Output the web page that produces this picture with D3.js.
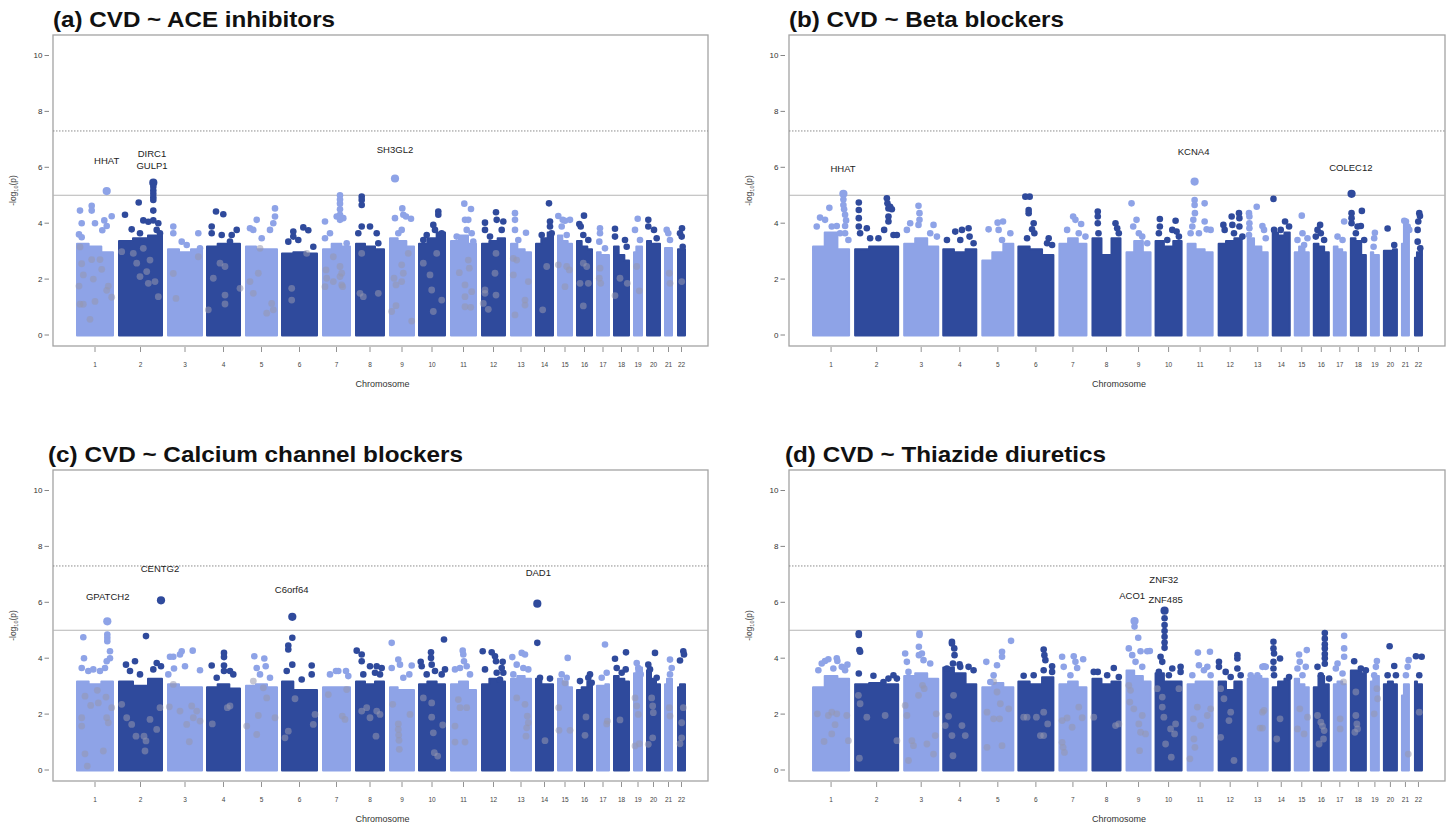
<!DOCTYPE html>
<html><head><meta charset="utf-8">
<script src="https://cdn.jsdelivr.net/npm/d3@7"></script>
<style>body{margin:0;background:#fff;} svg{display:block;font-family:"Liberation Sans", Arial, Helvetica, sans-serif;}</style>
</head><body><svg id="chart" width="1448" height="824"></svg>
<script>
// ---------------- DATA ----------------
const chromosomes = ["1","2","3","4","5","6","7","8","9","10","11","12","13","14","15","16","17","18","19","20","21","22"];
// cumulative genomic index (arbitrary units) where each chromosome's SNPs start / end
const chrStart = [23,65,114,153,192,228,269,302,336,365,397,428,457,482,504,523,543,560,580,593,611,624];
const chrEnd   = [61,110,150,188,225,265,298,332,362,393,424,453,479,501,520,540,557,577,590,608,620,633];
const yTicks = [0,2,4,6,8,10];
const suggestiveLine = 5;
const genomeWideLine = 7.3;
const titles = ["(a) CVD ~ ACE inhibitors","(b) CVD ~ Beta blockers","(c) CVD ~ Calcium channel blockers","(d) CVD ~ Thiazide diuretics"];

// upper edge of the dense SNP cloud, per chromosome (left / middle / right thirds), -log10(p)
const bulkA = [[3.3,3.2,3.0],[3.4,3.5,3.6],[3.1,3.0,3.1],[3.2,3.3,3.3],[3.2,3.1,3.1],[2.95,3.0,2.95],[3.1,3.3,3.2],[3.3,3.2,3.1],[3.5,3.4,3.2],[3.3,3.5,3.7],[3.4,3.6,3.3],[3.3,3.4,3.5],[3.3,3.1,3.0],[3.3,3.5,3.7],[3.6,3.4,3.3],[3.4,3.2,3.1],[3.0,2.9,2.9],[3.2,2.9,2.7],[3.0,3.2,3.2],[3.4,3.3,3.3],[3.15,3.15,3.15],[3.1,3.1,3.1]];
const bulkB = [[3.2,3.7,3.1],[3.1,3.2,3.2],[3.3,3.5,3.2],[3.1,3.0,3.1],[2.7,3.0,3.3],[3.2,3.1,2.9],[3.3,3.5,3.3],[3.5,2.9,3.5],[3.0,3.4,3.0],[3.4,3.2,3.4],[3.3,3.1,3.0],[3.3,3.4,3.5],[3.5,3.2,3.0],[3.7,3.6,3.7],[3.0,3.2,3.0],[3.3,3.2,3.0],[3.2,3.1,3.0],[3.5,3.4,2.9],[3.0,2.9,2.9],[3.05,3.05,3.1],[3.3,4.0,3.8],[2.8,3.0,3.2]];
const bulkC = [[3.2,3.1,3.2],[3.2,3.05,3.3],[3.1,3.0,3.0],[3.0,3.1,2.95],[3.05,3.1,3.0],[3.2,2.9,2.9],[3.0,3.0,3.0],[3.2,3.1,3.2],[3.0,2.9,2.9],[3.1,3.2,3.1],[3.1,3.2,2.9],[3.1,3.3,3.2],[3.3,3.4,3.3],[3.3,3.1,3.1],[3.3,3.2,3.0],[2.9,3.0,3.2],[3.05,3.05,3.1],[3.4,3.3,3.2],[3.5,3.7,3.7],[3.6,3.3,3.1],[3.1,3.3,3.3],[3.0,3.1,3.1]];
const bulkD = [[3.0,3.4,3.3],[3.1,3.15,3.1],[3.4,3.5,3.3],[3.7,3.5,3.1],[3.0,3.15,3.0],[3.2,3.1,3.35],[3.1,3.2,3.0],[3.3,3.1,3.2],[3.6,3.4,3.2],[3.5,3.2,3.2],[3.1,3.2,3.2],[3.2,2.9,3.2],[3.3,3.4,3.3],[3.0,3.2,3.3],[3.3,3.1,3.0],[3.0,3.4,3.1],[3.1,3.2,3.1],[3.6,3.6,3.5],[3.2,3.4,3.4],[3.1,3.2,3.1],[2.7,3.1,3.1],[3.2,3.1,3.1]];

// individual SNPs standing out above the cloud: [cumulative position, -log10(p)]
const peaksA = [[27,4.45],[28.7,4.0],[38.7,4.62],[38.7,4.45],[42,4.0],[49.3,3.75],[51.3,4.1],[53.7,5.15],[58.7,4.25],[53.7,3.9],[26,3.6],[28.7,3.5],
[72,4.3],[78.7,3.78],[85.7,4.74],[90.3,4.1],[100.3,5.45],[100.3,5.3],[100.3,5.17],[100.3,5.05],[100.3,4.93],[100.3,4.83],[100.3,4.45],[100.3,4.1],[95.3,4.05],[105.3,4.0],[103.7,3.76],[87,3.64],[107,3.64],
[120.3,3.88],[120.3,3.64],[128.7,3.34],[133.7,3.22],[145.3,3.64],[147,3.1],
[163,4.42],[170.3,4.32],[158.7,3.88],[158.7,3.64],[168.7,3.58],[178.7,3.58],[183.7,3.76],[177,3.34],
[197,3.82],[200.3,3.76],[203.7,4.12],[222,4.53],[222,4.24],[220.3,4.0],[217,3.76],[208.7,3.46],
[240.3,3.7],[240.3,3.52],[250.3,3.85],[255.3,3.75],[235.3,3.34],[245.3,3.4],[260.3,3.16],
[287,5.0],[287,4.85],[287,4.7],[287,4.5],[287,4.3],[287,4.12],[283.7,4.24],[290.3,4.18],[272,4.06],[272,3.46],[277,3.64],[293.7,3.28],
[308.7,4.95],[308.7,4.83],[308.7,4.65],[308.7,3.88],[317,3.88],[305.3,3.64],[323.7,3.64],[325.3,3.28],
[342,5.6],[342,4.18],[349.3,4.53],[350.3,4.3],[348.7,3.76],[358,4.16],[353,4.24],[345.3,3.64],
[385.3,4.42],[385.3,4.3],[380.3,3.94],[382,3.76],[388.7,3.64],[373.7,3.58],[370.3,3.4],
[411.3,4.7],[418,4.51],[412,4.12],[415.3,4.12],[413.7,3.76],[403.7,3.52],[418.7,3.64],[420.3,3.34],
[432,4.02],[432,3.76],[443,4.39],[443.7,4.12],[450.3,4.06],[448.7,3.76],[437,3.52],
[462,4.36],[462,4.12],[462,3.76],[473,3.66],[465.3,3.4],
[496,4.71],[497,4.06],[497,3.88],[488.7,3.58],[498.7,3.64],
[505.3,4.26],[509.7,4.12],[512,4.09],[517,4.12],[508.7,3.88],[513.7,3.58],
[531,4.27],[526.3,3.97],[527.7,3.88],[530.3,3.58],[535.3,3.4],
[547,3.82],[547,3.64],[546.3,3.34],[552,3.1],
[562,3.8],[562,3.52],[572,3.4],[573.7,3.16],
[584.7,4.16],[582,3.76],[587,3.4],
[595.3,4.12],[595.3,3.88],[601,3.76],[603.7,3.46],
[613.7,3.76],[615.3,3.64],[617,3.4],
[629,3.82],[627,3.64],[628.7,3.52],[629.7,3.16]];
const peaksB = [[40.3,4.55],[54.3,5.05],[54.3,4.85],[54.3,4.65],[55,4.5],[56,4.3],[57,4.1],[56,3.9],[47.7,3.9],[31,4.2],[36,4.12],[27.7,3.88],[42.7,3.88],[51,3.64],[56,3.64],[59.3,3.4],
[69.7,4.74],[69.7,4.47],[69.7,4.18],[69.7,3.88],[71,3.64],[77.7,3.82],[81,3.46],[97.7,4.89],[98.3,4.71],[99.3,4.53],[101,4.59],[102.7,4.5],[99.3,4.24],[99.3,4.06],[95,3.76],[104.3,3.58],[107.7,3.58],[89.3,3.46],
[129.3,4.62],[130.3,4.36],[130.3,4.12],[129.3,3.94],[121,4.0],[117.7,3.76],[144.3,3.94],[141,3.64],[147.7,3.52],
[166,3.7],[172.7,3.76],[179.3,3.82],[180.3,3.52],[157.7,3.4],[171,3.4],[184.3,3.28],
[199.3,3.78],[208.3,4.02],[213.7,4.06],[209.3,3.76],[212.7,3.4],[221,3.64],[217.7,3.16],
[236,4.95],[240.3,4.95],[239.3,4.47],[239.3,4.36],[244.3,4.0],[242.7,3.78],[237.7,3.46],[245,3.64],[259.3,3.46],[257.7,3.28],[262.7,3.22],
[283.7,4.24],[286,4.12],[277.7,3.76],[291.7,3.97],[289.3,3.64],[296,3.52],
[308.3,4.42],[308.3,4.24],[308.3,4.0],[309,3.64],[326,4.0],[327.7,3.82],[329.3,3.64],
[342,4.71],[347,4.12],[343.7,3.88],[349.3,3.64],[357.7,3.28],[352.7,3.52],
[370.3,4.15],[370.3,3.88],[369.3,3.64],[386,4.09],[387,3.7],[382.7,3.76],[389.3,3.52],[377.7,3.4],
[405,5.49],[405,4.83],[405,4.65],[405.3,4.36],[403.7,4.12],[402.7,3.88],[415,4.71],[415,4.06],[417,3.78],[421,3.76],[409.3,3.64],[401,3.64],
[433.7,3.94],[435,3.76],[442,4.24],[442.7,3.94],[449.3,4.36],[449.7,4.18],[449.7,3.88],[444.3,3.64],[452.7,3.52],
[459.3,4.36],[459.7,4.24],[459.7,4.0],[459.7,3.82],[459.3,3.58],[467,4.59],[472.7,3.9],[474.3,3.76],[476,3.46],
[483.7,4.87],[484.3,3.76],[495.3,4.06],[499.3,3.88],[491,3.76],
[512,4.27],[512.7,3.64],[507.7,3.4],[514.3,3.22],[517.7,3.46],
[530.3,3.94],[527.7,3.76],[531,3.64],[526,3.52],[534.3,3.4],
[554.3,4.06],[547.7,3.52],[552.7,3.4],
[561.7,5.05],[561.7,4.36],[561.7,4.18],[561.7,4.0],[572,4.44],[567.7,3.88],[571,3.9],[566,3.64],[574.3,3.4],
[585,3.66],[584.3,3.46],[583.7,3.16],
[597.7,3.81],[604.3,3.22],
[614.3,4.09],[616,4.06],[617.7,3.88],[619.3,3.76],
[629.3,4.36],[630,4.26],[628.3,4.06],[627.7,3.76],[627.7,3.34],[630.3,3.1]];
const peaksC = [[30.3,4.75],[31,4.0],[28.7,3.65],[35.3,3.54],[54.3,5.32],[54.3,4.85],[54.3,4.73],[54.3,4.61],[57,4.25],[57,4.0],[53.7,3.89],[52,3.65],[47,3.54],[40.3,3.6],
[73,3.77],[82,3.89],[93,4.79],[103.7,3.83],[108,6.07],[108,3.71],[100.3,3.6],[77,3.54],[87,3.42],
[117,4.05],[120.3,4.05],[127,4.13],[128.7,4.25],[139.7,4.27],[121,3.63],[132,3.71],[147,3.57],[115.3,3.42],
[171,4.19],[171,4.04],[171,3.74],[171,3.54],[158.7,3.74],[177,3.54],[180.3,3.42],[163.7,3.3],
[201.3,4.07],[211.3,3.99],[212.7,3.71],[203.7,3.65],[207,3.42],[217,3.3],
[239.3,5.48],[239.3,4.73],[235.3,4.45],[235.3,4.31],[239.3,3.77],[258.7,3.74],[258.7,3.42],[248.7,3.24],[233.7,3.54],
[283,3.54],[285.3,3.54],[293,3.54],[277,3.42],[295.3,3.36],
[303.7,4.27],[308.7,4.13],[308.7,3.89],[317,3.71],[322,3.48],[310.3,3.42],[323.7,3.71],[328.7,3.65],[327,3.42],
[338.7,4.55],[345.3,3.95],[347,3.77],[338.7,3.65],[358.7,3.74],[356.3,3.42],[350.3,3.3],
[367.7,3.87],[368.7,3.71],[378,4.21],[378,4.01],[378.7,3.77],[391,4.67],[392,3.6],[382,3.54],[373.7,3.42],[388.7,3.42],
[409.7,4.27],[410.3,4.13],[411,3.89],[402,3.6],[407,3.65],[417,3.42],[413.7,3.71],
[429.7,4.25],[438.7,4.21],[442,4.07],[443,3.89],[449.7,3.87],[448.7,3.65],[443.7,3.48],[450.3,3.48],[432,3.6],[447,3.24],
[468.7,4.19],[472,4.13],[459.3,4.04],[470.3,3.65],[463.7,3.77],[460.3,3.42],[475.3,3.6],
[484.3,5.95],[484.3,4.55],[487,3.3],[497,3.27],
[514.7,4.01],[508.7,3.42],[513.7,3.3],
[537,3.42],[535.3,3.3],[538.7,3.12],[527,3.18],
[552,4.49],[548.7,3.3],[553.7,3.48],
[562,3.98],[573,4.21],[572.7,3.6],[563.7,3.65],[568.7,3.48],
[583.7,3.83],[585.3,3.65],[587.7,3.42],
[602,4.19],[595.3,3.77],[597,3.6],[603.7,3.3],
[617,3.95],[618.7,3.65],[617,3.42],
[630.3,4.25],[631,4.13],[627,3.92]];
const peaksD = [[36,3.9],[39.3,3.96],[47.7,4.0],[48.3,3.9],[56,3.57],[58.3,3.77],[29.3,3.57],[32.7,3.81],[44.3,3.63],[52.7,3.69],
[69.7,4.89],[69.7,4.83],[70.3,4.29],[71,4.23],[69.7,3.45],[84.3,3.37],[94.3,3.15],[99.3,3.27],[107.7,3.27],[104.3,3.39],
[130.3,4.89],[130.3,4.83],[129.7,4.41],[129.7,4.11],[132.7,4.17],[134.3,3.93],[116,4.17],[117.7,3.87],[119.3,3.51],[141,3.81],
[162.7,4.59],[162.7,4.53],[165,4.35],[165.3,4.11],[163.7,3.81],[170.3,3.78],[171,3.69],[179.3,3.69],[184.3,3.57],[157.7,3.63],
[221.7,4.62],[212.7,4.23],[212.7,4.05],[207.7,3.75],[197,3.87],[204.3,3.39],[201,3.15],
[254.3,4.31],[255,4.11],[256,3.93],[254.3,3.57],[262.7,3.71],[262.7,3.51],[234.3,3.37],[244.3,3.39],
[272.7,4.05],[274.3,3.69],[284.3,4.07],[286,3.87],[287.7,3.65],[293.7,3.96],[281,3.39],
[304.3,3.51],[308.3,3.51],[324.3,3.65],[317.7,3.39],[329.3,3.33],
[345,5.33],[345,5.13],[348.7,4.73],[351,4.25],[360.3,4.26],[357.7,4.25],[339.3,4.35],[342.7,4.11],[346,3.87],[352.7,3.69],
[375,5.7],[375,5.43],[375,5.19],[375,4.97],[375,4.77],[375,4.56],[375,4.37],[371,4.05],[372.7,3.87],[382.7,3.63],[391,3.69],[391,3.51],[369.3,3.51],[379.3,3.39],
[408.3,4.2],[420.3,4.23],[409.3,3.75],[417.7,3.69],[414.3,3.57],[402.7,3.39],[421,3.39],
[429.3,3.87],[429.3,3.69],[447.7,4.11],[447.7,3.99],[447.7,3.63],[436,3.51],[441,3.33],[451,3.39],
[474.3,3.71],[472.7,3.69],[476,3.69],[461,3.39],[467.7,3.39],
[483.7,4.59],[483.7,4.35],[484.3,4.17],[490.3,3.99],[483.7,3.87],[483.7,3.63],[484.3,3.39],[499.3,3.33],
[509.3,4.13],[517,4.29],[510,3.87],[507.7,3.63],[516,3.69],[512.7,3.39],
[535,4.9],[535,4.7],[535,4.5],[535,4.35],[535,4.15],[535,4.0],[535,3.8],[527.7,3.69],[531,3.39],[539.3,3.27],
[554.3,4.8],[554.3,4.35],[554.3,4.05],[546,3.63],[547.7,3.81],[552.7,3.45],
[564.3,3.89],[571,3.63],[576,3.57],
[587,3.9],[586,3.69],[584.3,3.39],
[599.7,4.43],[604.3,3.72],[597.7,3.39],[606,3.39],
[618.7,3.93],[617.7,3.69],[616,3.39],
[626,4.07],[631.7,4.05],[629.3,3.39]];

// highlighted (semi-transparent) SNPs drawn over the cloud: [cumulative position, -log10(p)]
const innerA = [[27,3.15],[28.7,2.55],[26,1.75],[30.3,2.15],[27,1.1],[30.3,1.1],[37,0.56],[42,1.2],[40.3,2.0],[47,2.7],[48.7,2.35],[53.7,1.6],[58.7,1.35],[55.3,1.75],[38.7,2.7],
[68.7,2.98],[83.7,2.57],[87,2.09],[93.7,2.27],[95.3,1.85],[102,1.91],[105.3,1.37],[97,2.68],[80.3,2.92],[90.3,3.1],
[120.3,2.2],[123,1.31],[145.3,2.8],
[167,2.57],[172,2.45],[172,1.43],[172,1.11],[155.3,0.9],[187,1.67],[160.3,2.03],
[207,3.1],[197,1.91],[205.3,2.21],[200.3,1.49],[220.3,0.9],[213.7,0.78],[218.7,1.13],
[238.7,1.67],[238.7,1.25],[253.7,2.92],
[273,2.33],[273.7,2.03],[280.3,2.8],[287,2.45],[287,2.09],[288.7,1.79],[289.7,1.73],[288.7,2.21],[280.3,1.91],[272,1.73],
[308.7,2.92],[307,1.49],[310.3,1.37],[325.3,1.49],
[341,2.03],[343,1.79],[348.7,2.51],[350.3,2.21],[348.7,1.91],[355.3,2.92],[343,1.05],[338.7,0.84],[358.7,0.5],
[377,2.15],[378.7,1.61],[380.3,0.84],[388.7,1.25],[370.3,2.57],[383.7,2.92],
[406.3,2.23],[412,1.79],[415.3,2.68],[416.3,2.39],[412,1.37],[418.7,1.55],[412,1.01],[417.7,0.99],
[443,2.92],[442,2.21],[432,1.61],[443,1.43],[432,1.49],[430.3,1.13],[435.3,0.92],
[460.3,2.74],[463.7,2.68],[460.3,2.15],[475.3,1.91],[472,1.25],[472,1.07],[462,0.72],
[493.7,2.45],[489.7,0.9],
[505.3,2.51],[513.7,2.45],[516.3,2.33],[512,1.73],
[530.3,2.57],[533.7,2.45],[527,1.85],[535.3,1.85],[530.3,1.04],
[547,2.39],[546.3,2.03],[547.7,1.85],
[567,2.03],[562,1.41],[574.3,1.85],
[583.7,2.45],[586.3,1.58],
[616.3,2.21],[617,1.85],
[628.7,1.91]];
const innerB = [];
const innerC = [[32,2.64],[37.7,2.31],[45.3,2.4],[28.7,1.87],[28.7,1.57],[32,0.58],[34.3,0.14],[50.3,0.68],[53.7,1.87],[55.3,1.69],[58.7,2.23],[44.3,2.85],[53,2.61],
[68.7,2.35],[73.7,1.87],[83,1.21],[91,1.21],[92,0.68],[93,1.04],[97,1.81],[103.7,1.45],[107,2.23],[78.7,1.63],
[116.3,2.26],[120.3,3.06],[127,2.11],[133.7,1.63],[136.3,1.01],[138.7,2.29],[140.3,1.87],[143.7,2.11],[147,1.75],
[159.3,1.65],[177,2.29],[174.3,2.23],
[200.3,3.18],[205.3,1.95],[203.7,1.27],[213.7,2.58],[222,1.87],[193.7,1.57],[210.3,2.94],
[232,1.15],[235.3,1.39],[242,2.55],[260.3,1.63],[262,1.99],
[275.3,2.7],[289.3,1.93],[292,1.81],[293.7,2.88],
[308.7,2.11],[313.7,2.23],[317,1.87],[323,1.21],[323.7,2.11],[327,1.99],
[339.7,2.35],[345.3,1.65],[345.3,1.45],[345.7,1.25],[346,1.06],[346.3,0.74],[357,1.99],
[378.7,2.4],[378.7,1.89],[380.3,1.33],[389.7,1.61],[381.3,0.62],[384.7,0.5],[370.3,2.58],
[405.3,2.52],[407,2.23],[413.7,2.23],[402,1.57],[402,1.0],[412,1.0],
[472,2.35],[474.3,1.93],[475.3,1.69],[473.7,1.51],[463.7,2.58],[473,1.21],
[492,1.05],
[505.7,2.23],[506,1.42],[517,1.42],[512,3.12],
[533,1.9],[532,1.24],
[554.3,1.75],[553.7,1.65],
[567,1.79],
[582,2.58],[583.7,2.29],[585.3,1.99],[582,0.86],[586.3,0.94],
[598.7,2.58],[599.7,2.29],[600.3,2.05],[599.7,1.15],[595.3,0.92],
[616.3,2.23],[617,1.93],
[630.3,2.23],[628.7,1.69],[628.7,1.15],[627,0.94]];
const innerD = [[28.3,2.01],[39.3,1.95],[42.7,2.07],[47.7,2.01],[46,1.62],[42.7,1.29],[35,1.02],[57.7,1.95],[59.3,1.05],
[69.3,2.67],[71,2.37],[70.3,0.42],[77.7,1.89],[96,1.95],[107.7,1.05],
[116,2.31],[117.7,1.95],[129.3,2.67],[133.3,3.03],[135,2.91],[124.3,0.87],[119.3,0.34],[137.7,0.93],[144.3,0.57],[146,1.23],[122.7,1.05],[147,2.01],
[156,1.59],[159.3,1.92],[162.7,1.23],[163.7,0.51],[172.7,1.59],[176,1.23],[164.3,2.67],
[204.3,3.17],[207.7,2.79],[211,2.37],[197.7,2.07],[204.3,1.83],[210.3,1.83],[212.7,0.87],[197.7,0.81],[219.3,2.19],
[234.3,1.89],[237.7,1.89],[247,1.89],[251,1.23],[254.3,1.23],[258.3,1.65],[254.3,2.07],
[272.7,1.77],[277.7,1.86],[282.7,1.53],[289.3,2.25],[292.7,1.87],[272.7,0.99],[273.7,0.81],[275,0.63],
[326,1.59],[329.3,1.65],[304.3,1.89],
[341,2.85],[340.3,2.43],[344.3,2.19],[349.3,1.65],[351,1.35],[356,1.29],[350,0.69],[339.3,3.03],[352.7,1.95],
[372.7,2.61],[372.7,2.25],[374.3,1.89],[381,1.47],[386,1.65],[385,1.29],[376,0.93],[381.7,0.46],[367.7,2.91],[389.3,2.91],
[407.7,2.25],[403.7,1.83],[411,1.59],[404.3,1.11],[405.3,0.81],[400.3,0.4],[421,2.19],[417.7,1.95],
[431,2.91],[434.3,2.55],[439.3,1.77],[441,2.07],[444.3,0.34],[431,1.17],
[472.7,2.07],[474.3,2.13],[470.3,1.5],[472.7,1.5],
[490.3,1.83],[487,1.11],
[510,2.19],[507.7,1.47],[514.3,1.29],[517.7,1.89],
[531,1.71],[532.7,1.57],[534.3,1.41],[533.7,1.11],[527.7,1.95],[529.3,0.93],
[550.3,1.83],[550.3,1.47],[553.7,3.15],
[566,2.79],[566,1.95],[567,1.65],[567.7,1.47],[565,1.35],
[587,2.91],[587.7,2.55],[584.3,2.01],
[618.3,0.57],
[629.3,2.07]];

// gene annotations: [gene, cumulative position, label height in -log10(p)]
const labelsA = [["HHAT",53.7,6.24],["DIRC1",99,6.48],["GULP1",99,6.06],["SH3GL2",342,6.63]];
const labelsB = [["HHAT",54,5.94],["KCNA4",404,6.56],["COLEC12",561,6.0]];
const labelsC = [["GPATCH2",54.7,6.19],["CENTG2",107,7.2],["C6orf64",238.7,6.45],["DAD1",485.3,7.07]];
const labelsD = [["ZNF32",374.3,6.8],["ACO1",342.7,6.24],["ZNF485",376,6.08]];

// ---------------- DRAWING ----------------
const panels = [
  {title: titles[0], bulk: bulkA, peaks: peaksA, inner: innerA, labels: labelsA},
  {title: titles[1], bulk: bulkB, peaks: peaksB, inner: innerB, labels: labelsB},
  {title: titles[2], bulk: bulkC, peaks: peaksC, inner: innerC, labels: labelsC},
  {title: titles[3], bulk: bulkD, peaks: peaksD, inner: innerD, labels: labelsD}
];
const frames = [
  {left:53,  top:35,  width:655, titleX:53,  titleY:27,  titleW:282},
  {left:789, top:35,  width:656, titleX:789, titleY:27,  titleW:275},
  {left:53,  top:470, width:655, titleX:48,  titleY:462, titleW:415},
  {left:789, top:470, width:656, titleX:785, titleY:462, titleW:321}
];
const boxH = 311;
const lightCol = "#8ea3e7", darkCol = "#2f4a9c";
const colOf = ci => (ci % 2 === 0 ? lightCol : darkCol);
const chrIndexOf = pos => Math.max(0, Math.min(21, d3.bisectRight(chrStart, pos) - 1));

const svg = d3.select("#chart");

panels.forEach((p, i) => {
  const f = frames[i];
  const g = svg.append("g");
  const x = d3.scaleLinear().domain([0, 655]).range([f.left, f.left + f.width]);
  const y = d3.scaleLinear().domain([0, 10]).range([f.top + 300, f.top + 20.5]);

  // lead SNP of each annotated locus (highest peak close to the label) is drawn a bit larger
  const leads = new Set();
  p.labels.forEach(l => {
    const near = p.peaks.filter(d => Math.abs(d[0] - l[1]) < 4);
    if (near.length) leads.add(d3.greatest(near, d => d[1]));
  });

  // title
  g.append("text").attr("x", f.titleX).attr("y", f.titleY)
    .attr("font-size", 22).attr("font-weight", "bold").attr("fill", "#111")
    .attr("textLength", f.titleW).attr("lengthAdjust", "spacingAndGlyphs")
    .text(p.title);

  // frame
  g.append("rect").attr("x", f.left).attr("y", f.top).attr("width", f.width).attr("height", boxH)
    .attr("fill", "none").attr("stroke", "#a3a3a3").attr("stroke-width", 1.3);

  // threshold lines
  g.append("line").attr("x1", f.left).attr("x2", f.left + f.width)
    .attr("y1", y(genomeWideLine)).attr("y2", y(genomeWideLine))
    .attr("stroke", "#8c8c8c").attr("stroke-width", 1).attr("stroke-dasharray", "1.5,1.5");
  g.append("line").attr("x1", f.left).attr("x2", f.left + f.width)
    .attr("y1", y(suggestiveLine)).attr("y2", y(suggestiveLine))
    .attr("stroke", "#b5b5b5").attr("stroke-width", 1);

  // dense SNP cloud per chromosome: one stepped area per chromosome, rounded like the dot edges
  const area = d3.area()
    .x(d => d[0]).y0(y(0) + 0.5).y1(d => d[1])
    .curve(d3.curveStepAfter);
  chromosomes.forEach((c, ci) => {
    const s = chrStart[ci], e = chrEnd[ci], w = (e - s) / 3;
    const prof = p.bulk[ci];
    const pts = [
      [x(s) + 1, y(prof[0]) + 1],
      [x(s + w), y(prof[1]) + 1],
      [x(s + 2 * w), y(prof[2]) + 1],
      [x(e) - 1, y(prof[2]) + 1]
    ];
    g.append("path").attr("d", area(pts))
      .attr("fill", colOf(ci)).attr("stroke", colOf(ci))
      .attr("stroke-width", 2).attr("stroke-linejoin", "round");
  });

  // highlighted semi-transparent SNPs
  g.selectAll("circle.inner").data(p.inner).join("circle").attr("class", "inner")
    .attr("cx", d => x(d[0])).attr("cy", d => y(d[1])).attr("r", 3.4)
    .attr("fill", "rgb(150,152,175)").attr("fill-opacity", 0.55);

  // individual SNPs above the cloud
  g.selectAll("circle.peak").data(p.peaks).join("circle").attr("class", "peak")
    .attr("cx", d => x(d[0])).attr("cy", d => y(d[1]))
    .attr("r", d => leads.has(d) ? 4.1 : 3.3)
    .attr("fill", d => colOf(chrIndexOf(d[0])));

  // y axis
  yTicks.forEach(t => {
    g.append("line").attr("x1", f.left - 8.5).attr("x2", f.left - 4).attr("y1", y(t)).attr("y2", y(t))
      .attr("stroke", "#666").attr("stroke-width", 0.8);
    g.append("text").attr("x", f.left - 10.5).attr("y", y(t)).attr("dy", "0.35em")
      .attr("text-anchor", "end").attr("font-size", 8).attr("fill", "#333").text(t);
  });
  const yl = g.append("text")
    .attr("transform", `translate(${f.left - 37.5},${f.top + boxH / 2}) rotate(-90)`)
    .attr("text-anchor", "middle").attr("font-size", 8.5).attr("fill", "#444");
  yl.append("tspan").text("-log");
  yl.append("tspan").attr("font-size", 5.5).attr("dy", 2).text("10");
  yl.append("tspan").attr("dy", -2).text("(p)");

  // x axis
  chromosomes.forEach((c, ci) => {
    const cx = x((chrStart[ci] + chrEnd[ci]) / 2);
    g.append("line").attr("x1", cx).attr("x2", cx).attr("y1", f.top + boxH + 1).attr("y2", f.top + boxH + 6)
      .attr("stroke", "#777").attr("stroke-width", 0.8);
    g.append("text").attr("x", cx).attr("y", f.top + boxH + 19).attr("dy", "0.35em")
      .attr("text-anchor", "middle").attr("font-size", 6.5).attr("fill", "#444").text(c);
  });
  g.append("text").attr("x", f.left + f.width / 2 + 2).attr("y", f.top + boxH + 38).attr("dy", "0.35em")
    .attr("text-anchor", "middle").attr("font-size", 9).attr("fill", "#333").text("Chromosome");

  // gene labels
  p.labels.forEach(l => {
    g.append("text").attr("x", x(l[1])).attr("y", y(l[2])).attr("dy", "0.35em")
      .attr("text-anchor", "middle").attr("font-size", 9.5).attr("fill", "#222").text(l[0]);
  });
});
</script>
</body></html>
